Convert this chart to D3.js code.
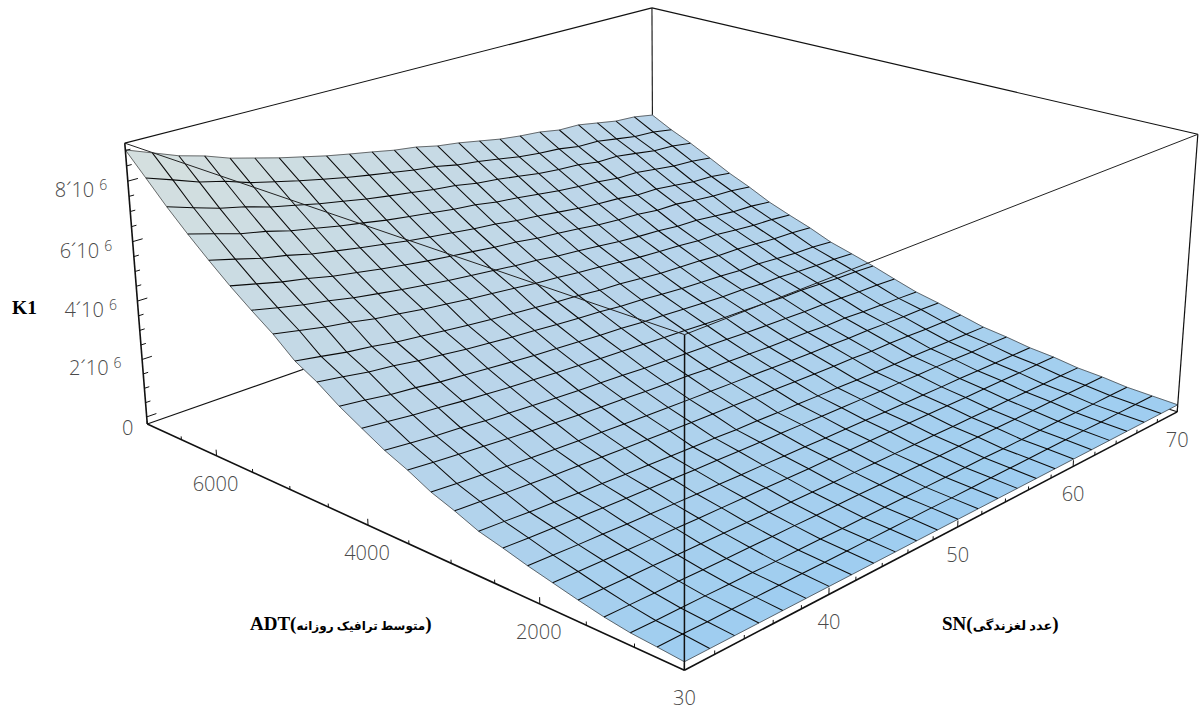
<!DOCTYPE html><html><head><meta charset="utf-8"><style>html,body{margin:0;background:#fff}svg{display:block}</style></head><body><svg id="c" width="1199" height="711"></svg>
<script src="https://d3js.org/d3.v7.min.js"></script>
<script>
// K1 in units of 10^4; rows = ADT grid (500..7000), columns = SN grid (30..70)
const k1Grid=[
[0,0,0,0,0,0,0,0,0,0,0,0,0,0,0,0,0,0,0,0,0,0,0,0,0],
[7,7,6,6,6,6,6,5,5,5,5,5,5,4,4,4,4,4,4,4,4,3,3,3,3],
[13,12,12,12,11,11,10,10,10,9,9,9,9,8,8,8,8,7,7,7,7,7,6,6,6],
[25,24,23,23,22,21,21,20,20,19,19,19,18,18,18,17,17,17,17,16,16,16,15,15,15],
[41,39,38,37,35,34,33,32,31,30,29,28,28,27,26,25,25,24,24,23,23,22,21,21,20],
[59,57,55,53,51,50,48,47,46,45,43,42,42,40,40,39,38,37,36,35,35,34,33,33,32],
[77,74,71,69,66,64,62,60,59,57,56,54,53,51,50,49,47,46,45,44,44,42,41,40,39],
[98,94,91,88,85,82,80,78,75,74,72,70,69,67,65,63,62,60,60,58,58,56,54,54,52],
[117,113,108,105,101,98,95,93,90,88,86,83,82,79,78,76,74,72,71,69,69,67,65,64,62],
[148,143,137,133,128,125,121,118,115,112,109,107,105,102,100,97,95,93,92,89,89,87,84,83,81],
[175,169,163,158,153,148,144,141,137,134,131,128,126,123,121,118,115,113,112,109,109,106,104,103,100],
[213,205,198,192,185,179,174,169,165,161,157,153,151,146,143,140,136,134,132,128,128,124,121,119,116],
[245,236,228,222,214,208,202,197,192,188,184,179,176,172,169,165,161,158,156,153,152,149,145,144,140],
[285,275,265,258,249,242,235,230,224,219,214,210,206,201,198,193,189,186,184,179,179,175,171,169,165],
[326,315,303,295,284,277,269,262,255,250,245,239,235,229,225,220,215,211,209,204,203,198,194,192,187],
[375,362,348,339,326,317,307,299,291,285,278,272,267,259,255,248,242,238,235,229,228,222,216,214,208],
[414,400,385,375,361,352,342,333,325,318,311,304,299,291,287,280,273,269,266,260,259,253,247,245,239],
[474,457,440,428,412,401,389,379,369,361,353,344,338,329,323,315,307,302,298,291,290,282,275,272,265],
[524,505,487,473,456,443,430,419,408,399,390,381,374,364,357,349,340,334,330,322,320,312,304,301,293],
[577,557,537,522,503,489,475,463,451,441,432,422,415,404,397,388,378,372,368,359,358,349,341,338,329],
[635,613,590,574,553,538,523,510,496,485,475,464,456,444,436,426,416,409,404,394,393,384,374,371,361],
[696,672,647,630,607,591,574,560,545,533,522,510,502,488,480,469,458,451,445,435,434,423,413,409,399],
[761,734,708,689,664,646,627,612,596,583,571,558,549,534,525,513,500,492,487,475,474,463,451,447,436],
[832,803,773,752,724,704,684,666,649,634,620,606,596,579,569,555,541,532,526,513,511,498,485,481,468],
[902,870,838,815,785,763,741,722,703,687,672,656,645,627,616,601,586,576,569,555,553,539,525,520,506]];
const snGrid=d3.range(25).map(i=>30+i*40/24), adtGrid=d3.range(25).map(j=>500+j*6500/24);
const snTicks=[30,40,50,60,70], adtTicks=[2000,4000,6000], zTicks=[0,2,4,6,8];
const P=[781.025623,-503.483336,-33.832071,684.395852,-157.500470,-149.299621,-352.157026,670.173015,0.244818,0.228429,-0.049666];
const su=d3.scaleLinear([30,70],[0,1]),sv=d3.scaleLinear([500,7000],[0,1]),sw=d3.scaleLinear([-25,924],[0,1]);
const pr=(u,v,w)=>{const d=P[8]*u+P[9]*v+P[10]*w+1;return[(P[0]*u+P[1]*v+P[2]*w+P[3])/d,(P[4]*u+P[5]*v+P[6]*w+P[7])/d];};
const depth=(u,v,w)=>P[8]*u+P[9]*v+P[10]*w+1;
const svg=d3.select('#c');
const line=d3.line();
const seg=(g,a,b,w,c)=>g.append('path').attr('d',line([pr(...a),pr(...b)])).attr('fill','none').attr('stroke',c||'#111').attr('stroke-width',w);
const back=svg.append('g');
[[[0,1,1],[1,1,1]],[[1,1,1],[1,0,1]],[[1,1,1],[1,1,0]],[[0,1,0],[1,1,0]],[[1,0,0],[1,1,0]]].forEach(s=>seg(back,s[0],s[1],1.1));
const color=d3.scaleLinear([0,.5,1],['#9ecdf0','#bad5ea','#d6e0de']);
const cells=[];
for(let j=0;j<24;j++)for(let i=0;i<24;i++){
 const q=[[i,j],[i+1,j],[i+1,j+1],[i,j+1]].map(([a,b])=>[su(snGrid[a]),sv(adtGrid[b]),sw(k1Grid[b][a])]);
 const u=d3.mean(q,c=>c[0]),v=d3.mean(q,c=>c[1]);
 cells.push({q,t:v*(1-u/2),d:d3.mean(q,c=>depth(...c))});
}
cells.sort((a,b)=>b.d-a.d);
const surf=svg.append('g');
surf.selectAll('path').data(cells).join('path').attr('d',c=>line(c.q.map(x=>pr(...x)))+'Z').attr('fill',c=>color(c.t)).attr('stroke',c=>color(c.t)).attr('stroke-width',.5);
const mesh=svg.append('g').attr('fill','none');
for(let k=0;k<25;k++){
 const edgeR=k==0||k==24;
 mesh.append('path').attr('d',line(adtGrid.map((a,j)=>pr(su(snGrid[k]),sv(a),sw(k1Grid[j][k]))))).attr('stroke',edgeR?'#333':'#0a0a0a').attr('stroke-width',edgeR?.7:1.05);
 mesh.append('path').attr('d',line(snGrid.map((s,i)=>pr(su(s),sv(adtGrid[k]),sw(k1Grid[k][i]))))).attr('stroke',edgeR?'#333':'#0a0a0a').attr('stroke-width',edgeR?.7:1.05);
}
const front=svg.append('g');
seg(front,[0,0,0],[0,0,1],1.5,'#111');
[[[0,1,1],[0,0,1]],[[0,0,1],[1,0,1]]].forEach(s=>seg(front,s[0],s[1],1,'#222'));
seg(front,[0,1,0],[0,1,1],1.6);seg(front,[1,0,0],[1,0,1],1.2);
[[[0,0,0],[1,0,0]],[[0,0,0],[0,1,0]]].forEach(s=>seg(front,s[0],s[1],1.6));
d3.range(30,70.1,2).forEach(s=>{const M=s%10==0;seg(front,[su(s),0,0],[su(s),0,M?.022:.012],1);});
d3.range(500,7001,500).forEach(a=>{const M=a%2000==0;seg(front,[0,sv(a),0],[0,sv(a),M?.022:.012],1);});
d3.range(0,9.01,.5).forEach(z=>{const M=z%2==0;seg(front,[0,1,sw(z*100)],[M?.016:.008,1,sw(z*100)],1);});
const F="'Open Sans','DejaVu Sans',sans-serif";
const lab=svg.append('g').attr('font-family',F).attr('font-size',20).attr('font-weight',300).attr('fill','#4a4a4a');
snTicks.forEach(s=>{const p=pr(su(s),0,0);lab.append('text').attr('x',p[0]).attr('y',p[1]+35).attr('text-anchor','middle').text(s);});
adtTicks.forEach(a=>{const p=pr(0,sv(a),0);lab.append('text').attr('x',p[0]-1).attr('y',p[1]+35).attr('text-anchor','middle').text(a);});
zTicks.forEach(z=>{const p=pr(0,1,sw(z*100));
 if(z==0){lab.append('text').attr('x',p[0]-19).attr('y',p[1]+18).attr('text-anchor','middle').text('0');return;}
 const t=lab.append('text').attr('x',p[0]-73).attr('y',p[1]+16).text(z+'´10');
 t.append('tspan').attr('dx',5).attr('dy',-7).attr('font-size',14).text('6');});
const tl=svg.append('g').attr('font-family',"'Liberation Serif','DejaVu Sans',serif").attr('font-weight','bold').attr('fill','#000');
tl.append('text').attr('x',12).attr('y',314).attr('font-size',19.5).text('K1');
const ax=(x,y,lat,fa,fs)=>{const t=tl.append('text').attr('x',x).attr('y',y).attr('font-size',19).attr('direction','ltr');
 t.append('tspan').text(lat+'(');t.append('tspan').attr('font-size',fs).text(fa);t.append('tspan').text(')');};
ax(250,630,'ADT','متوسط ترافیک روزانه',12);
ax(942,630,'SN','عدد لغزندگی',13);
</script></body></html>
